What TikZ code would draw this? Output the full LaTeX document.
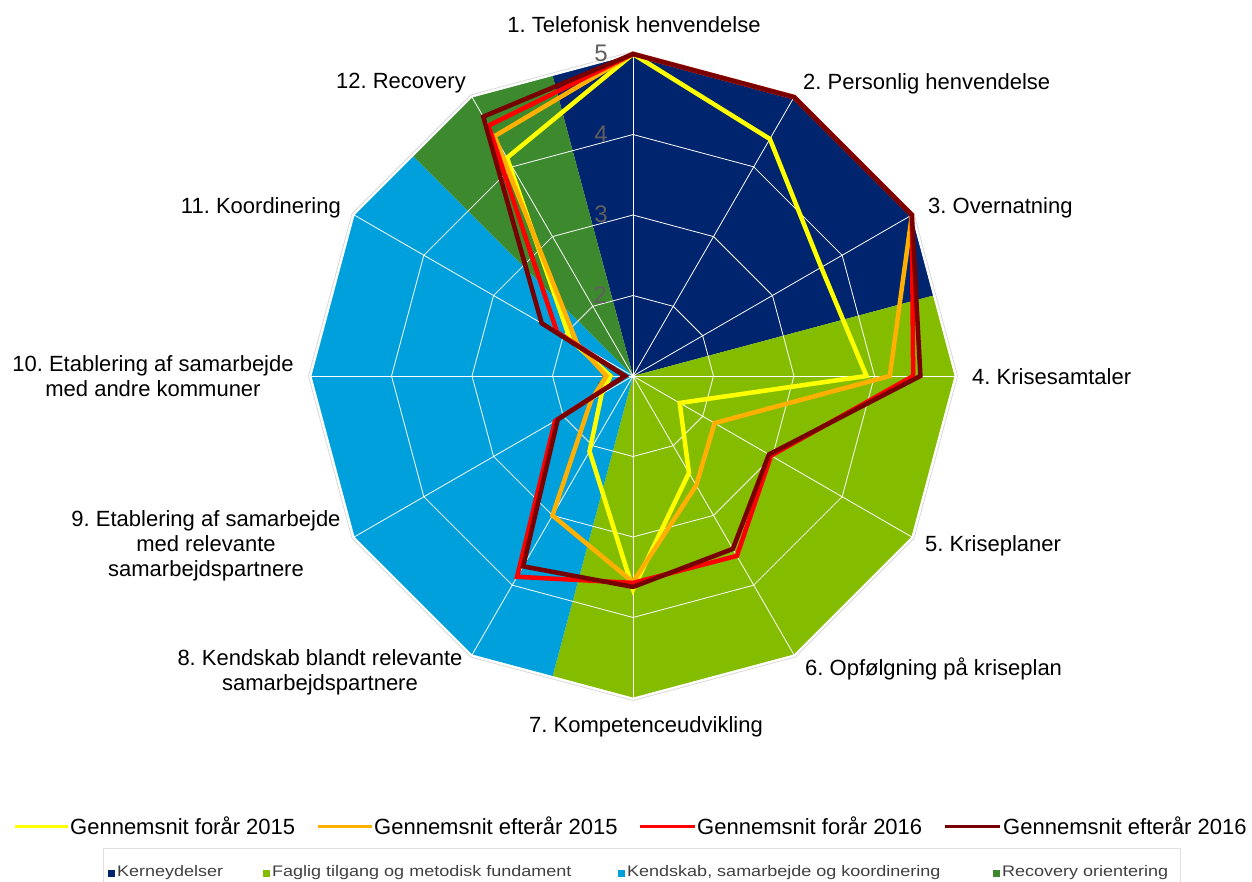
\documentclass[tikz,border=0pt]{standalone}
\usepackage{fontspec}
\setmainfont{Liberation Sans}
\definecolor{navy}{RGB}{0,36,110}
\definecolor{lgreen}{RGB}{132,188,0}
\definecolor{lblue}{RGB}{0,160,220}
\definecolor{dgreen}{RGB}{61,137,46}
\definecolor{syel}{RGB}{255,255,0}
\definecolor{sora}{RGB}{255,176,0}
\definecolor{sred}{RGB}{255,0,0}
\definecolor{sdred}{RGB}{120,0,0}
\definecolor{axgray}{RGB}{95,95,95}
\begin{document}
\frenchspacing
\begin{tikzpicture}[x=1pt,y=1pt,
  declare function={rr(\v)=(\v-1)*80.5;},
  ser/.style={line width=4.5pt, line join=miter},
  grid/.style={white, line width=0.8pt},
  lab/.style={font=\fontsize{22}{25}\selectfont, inner sep=0pt, align=center},
  num/.style={font=\fontsize{24}{24}\selectfont, text=axgray, inner sep=0pt},
  leg/.style={font=\fontsize{22}{25}\selectfont, inner sep=0pt, anchor=west},
  legline/.style={line width=3pt},
  cat/.style={font=\fontsize{18}{20}\selectfont, text=black!75, inner sep=0pt, anchor=west, yscale=0.85},
  catsq/.style={minimum size=7pt, inner sep=0pt}]
\useasboundingbox (0,0) rectangle (1252,-882);
\fill[white] (0,0) rectangle (1252,-882);
% background sectors
\begin{scope}[shift={(633,-376)}]
  \clip (90:322) \foreach \k in {1,...,11} { -- ({90-30*\k}:322) } -- cycle;
  \fill[navy] (0,0) -- (105:420) arc[start angle=105,end angle=15,radius=420] -- cycle;
  \fill[lgreen] (0,0) -- (15:420) arc[start angle=15,end angle=-105,radius=420] -- cycle;
  \fill[lblue] (0,0) -- (-105:420) arc[start angle=-105,end angle=-225,radius=420] -- cycle;
  \fill[dgreen] (0,0) -- (135:420) arc[start angle=135,end angle=105,radius=420] -- cycle;
\end{scope}
\begin{scope}[shift={(633,-376)}]
  % outer outline
  \draw[gray!30, line width=0.8pt] (90:324.5) \foreach \k in {1,...,11} { -- ({90-30*\k}:324.5) } -- cycle;
  \draw[grid] (90:322) \foreach \k in {1,...,11} { -- ({90-30*\k}:322) } -- cycle;
  % grid rings
  \foreach \r in {80.5,161,241.5} {
    \draw[grid] (90:\r) \foreach \k in {1,...,11} { -- ({90-30*\k}:\r) } -- cycle;
  }
  % spokes
  \foreach \k in {0,...,11} { \draw[grid] (0,0) -- ({90-30*\k}:322); }
  \fill[white] (0,0) circle (2pt);
  % axis numbers
  \node[num] (n5) at (-32,323) {5};
  \node[num] (n4) at (-32,242) {4};
  \node[num] (n3) at (-32,162) {3};
  \node[num] (n2) at (-33,81) {2};
  \node[num] (n1) at (-30,0) {1};
  % data series
  \draw[ser,syel] (90:{rr(5)}) \foreach \a/\v in {60/4.4,30/3.7,0/3.9,-30/1.67,-60/2.39,-90/3.65,-120/2.08,-150/1.45,-180/1.28,-210/1.9,-240/4.13} { -- (\a:{rr(\v)}) } -- cycle;
  \draw[ser,sora] (90:{rr(5)}) \foreach \a/\v in {60/5,30/5,0/4.19,-30/2.17,-60/2.57,-90/3.56,-120/3.0,-150/1.6,-180/1.33,-210/1.8,-240/4.44} { -- (\a:{rr(\v)}) } -- cycle;
  \draw[ser,sred] (90:{rr(5)}) \foreach \a/\v in {60/5,30/5,0/4.48,-30/2.98,-60/3.58,-90/3.57,-120/3.88,-150/2.12,-180/1.1,-210/2.09,-240/4.59} { -- (\a:{rr(\v)}) } -- cycle;
  \draw[ser,sdred] (90:{rr(5)}) \foreach \a/\v in {60/5,30/5,0/4.57,-30/2.95,-60/3.48,-90/3.62,-120/3.73,-150/2.08,-180/1.1,-210/2.31,-240/4.72} { -- (\a:{rr(\v)}) } -- cycle;
\end{scope}
% axis labels
\node[lab] (l1) at (634,-25) {1. Telefonisk henvendelse};
\node[lab, anchor=west] (l2) at (803,-84) {2. Personlig henvendelse};
\node[lab, anchor=west] (l3) at (928,-208) {3. Overnatning};
\node[lab, anchor=west] (l4) at (972,-377) {4. Krisesamtaler};
\node[lab, anchor=west] (l5) at (925,-546) {5. Kriseplaner};
\node[lab, anchor=west] (l6) at (805,-669) {6. Opfølgning på kriseplan};
\node[lab] (l7) at (646,-727) {7. Kompetenceudvikling};
\node[lab] (l8) at (320,-672) {8. Kendskab blandt relevante\\samarbejdspartnere};
\node[lab] (l9) at (206,-546) {9. Etablering af samarbejde\\med relevante\\samarbejdspartnere};
\node[lab] (l10) at (153,-376) {10. Etablering af samarbejde\\med andre kommuner};
\node[lab, anchor=east] (l11) at (341,-208) {11. Koordinering};
\node[lab, anchor=east] (l12) at (466,-83) {12. Recovery};
% legend row 1
\coordinate (ya) at (15,-826); \coordinate (yb) at (68,-826);
\draw[legline,syel] (ya) -- (yb);
\node[leg] (t1) at (70,-826) {Gennemsnit forår 2015};
\coordinate (oa) at (318,-826); \coordinate (ob) at (372,-826);
\draw[legline,sora] (oa) -- (ob);
\node[leg] (t2) at (374,-826) {Gennemsnit efterår 2015};
\coordinate (ra) at (640,-826); \coordinate (rb) at (695,-826);
\draw[legline,sred] (ra) -- (rb);
\node[leg] (t3) at (697,-826) {Gennemsnit forår 2016};
\coordinate (da) at (945,-826); \coordinate (db) at (1000,-826);
\draw[legline,sdred] (da) -- (db);
\node[leg] (t4) at (1003,-826) {Gennemsnit efterår 2016};
% legend row 2
\draw[gray!25, line width=0.8pt] (103,-848) rectangle (1180,-895);
\node[catsq, fill=navy] (s1) at (111,-873) {};
\node[cat] (c1) at (117,-873) {Kerneydelser};
\node[catsq, fill=lgreen] (s2) at (266,-873) {};
\node[cat] (c2) at (272,-873) {Faglig tilgang og metodisk fundament};
\node[catsq, fill=lblue] (s3) at (621,-873) {};
\node[cat] (c3) at (627,-873) {Kendskab, samarbejde og koordinering};
\node[catsq, fill=dgreen] (s4) at (996,-873) {};
\node[cat] (c4) at (1002,-873) {Recovery orientering};
\end{tikzpicture}
\end{document}
